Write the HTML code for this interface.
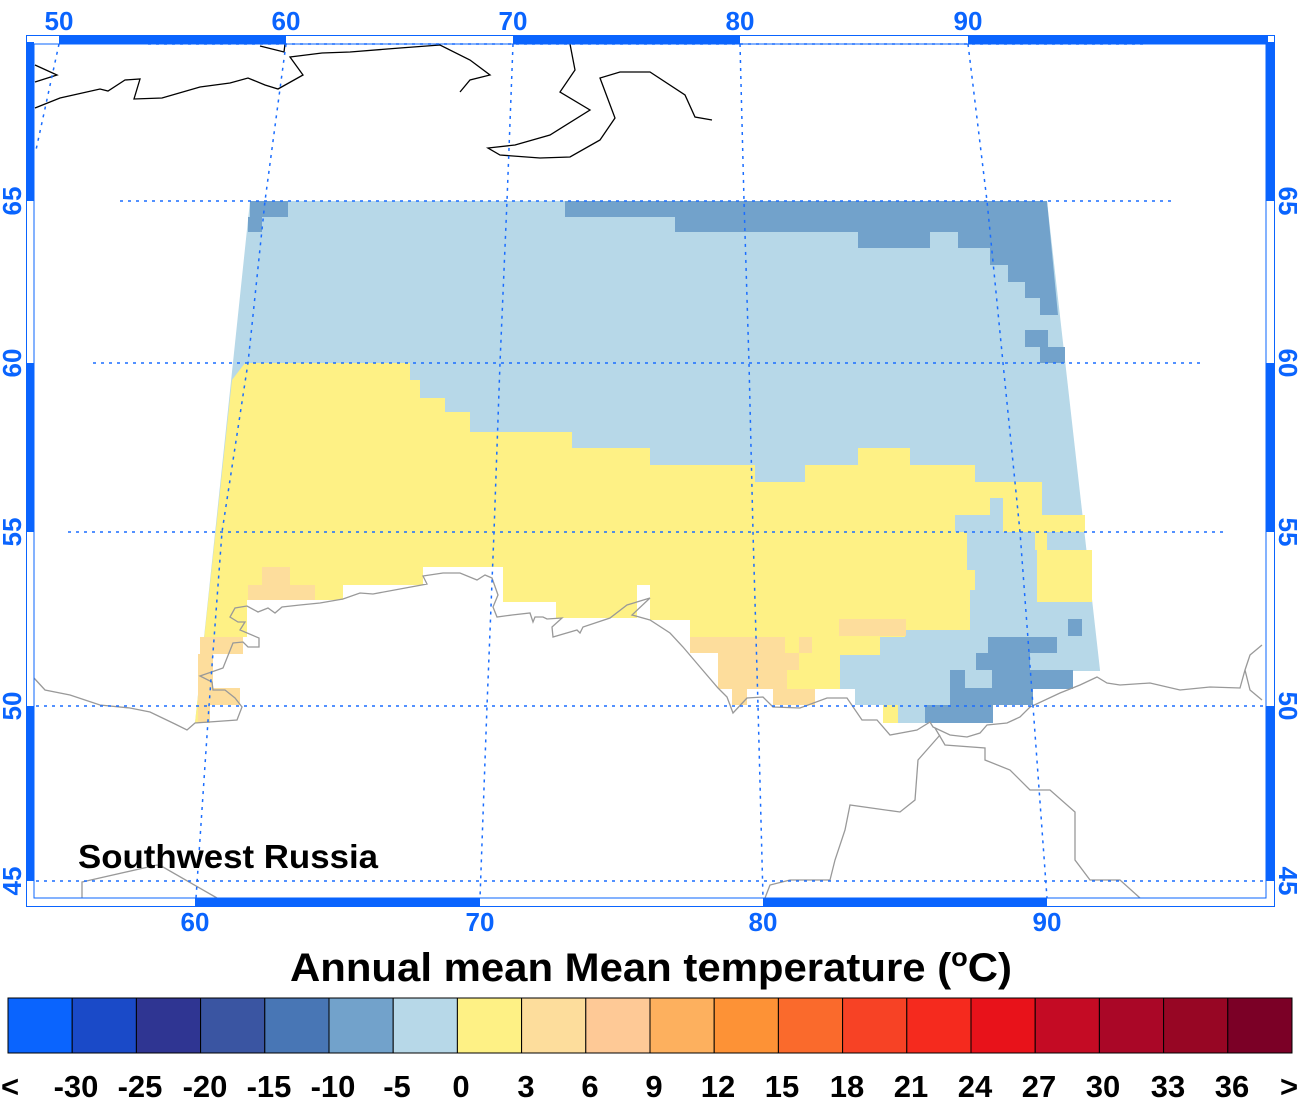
<!DOCTYPE html>
<html><head><meta charset="utf-8"><style>
html,body{margin:0;padding:0;background:#fff;}
svg{display:block;}
text{font-family:"Liberation Sans",Arial,sans-serif;font-weight:bold;}
</style></head><body>
<svg width="1300" height="1105" viewBox="0 0 1300 1105" xmlns="http://www.w3.org/2000/svg">
<polygon fill="#b7d8e8" points="250,201 1047,201 1100,670 1100,723 195,723"/>
<polygon fill="#fef185" points="232,380 245,363 410,363 410,380 420,380 420,398 445,398 445,412 470,412 470,432 572,432 572,448 650,448 650,465 755,465 755,482 805,482 805,465 858,465 858,448 910,448 910,465 975,465 975,482 1042,482 1042,515 1003,515 1003,498 990,498 990,515 955,515 955,532 967,532 967,570 975,570 975,590 970,590 970,630 905,630 905,637 880,637 880,655 840,655 840,723 195,723"/>
<rect fill="#fef185" x="1003" y="515" width="82" height="17"/>
<rect fill="#fef185" x="1035" y="532" width="12" height="18"/>
<rect fill="#fef185" x="1037" y="550" width="55" height="52"/>
<rect fill="#fef185" x="883" y="705" width="15" height="18"/>
<g fill="#fddd9c">
<rect x="262" y="567" width="28" height="18"/>
<rect x="248" y="585" width="67" height="15"/>
<rect x="200" y="637" width="43" height="17"/>
<rect x="198" y="654" width="15" height="69"/>
<rect x="198" y="688" width="42" height="17"/>
<rect x="690" y="637" width="95" height="16"/>
<rect x="799" y="637" width="13" height="16"/>
<rect x="839" y="619" width="67" height="17"/>
<rect x="718" y="653" width="81" height="17"/>
<rect x="718" y="670" width="69" height="19"/>
<rect x="732" y="689" width="15" height="16"/>
<rect x="773" y="689" width="42" height="16"/>
</g>
<g fill="#72a2cb">
<rect x="250" y="201" width="38" height="16"/>
<rect x="248" y="217" width="14" height="15"/>
<polygon points="565,201 1047,201 1058,315 1040,315 1040,298 1025,298 1025,282 1008,282 1008,265 990,265 990,248 958,248 958,232 930,232 930,248 918,248 918,232 858,232 858,248 858,232 675,232 675,217 565,217"/>
<rect x="858" y="232" width="60" height="16"/>
<rect x="1025" y="330" width="23" height="17"/>
<rect x="1040" y="347" width="25" height="16"/>
<rect x="1068" y="619" width="14" height="17"/>
<rect x="988" y="637" width="69" height="16"/>
<rect x="976" y="653" width="54" height="17"/>
<rect x="950" y="670" width="15" height="18"/>
<rect x="992" y="670" width="81" height="19"/>
<rect x="950" y="688" width="85" height="17"/>
<rect x="925" y="705" width="70" height="18"/>
</g>
<polygon fill="#fff" points="190,740 195,723 210,723 210,705 240,705 240,688 213,688 213,654 243,654 243,637 247,637 247,600 343,600 343,585 423,585 423,567 503,567 503,602 556,602 556,618 637,618 637,585 650,585 650,620 690,620 690,637 690,653 718,653 718,689 732,689 732,705 747,705 747,689 773,689 773,705 815,705 815,689 855,689 855,705 883,705 883,723 993,723 993,705 1033,705 1033,689 1073,689 1073,671 1110,671 1110,740"/>
<g fill="none" stroke="#000" stroke-width="1.3">
<polyline points="35,65 57,75 35,82"/>
<polyline points="35,108 60,98 100,89 108,91 125,80 140,79 134,99 162,98 200,87 230,83 248,78 265,85 278,89 303,75 290,57 322,53 350,52 400,48 440,45 470,60 490,75 470,80 460,92"/>
<polyline points="260,46 284,52 285,44"/>
<polyline points="570,44 575,70 560,92 590,110 550,135 515,145 488,148 500,155 540,158 570,157 600,140 615,118 600,78 620,72 650,72 685,95 695,117 712,120"/>
</g>
<g fill="none" stroke="#999" stroke-width="1.3">
<polyline points="34,678 45,690 70,695 100,705 130,708 150,712 175,724 187,730 195,723 237,720 242,707 235,698 225,690 213,690 212,682 200,676 223,668 233,643 243,642 248,647 259,647 259,638 240,630 245,622 238,622 230,617 235,608 247,606 258,612 268,608 275,613 282,607 300,605 320,603 343,599 360,593 373,594 427,584 423,576 443,573 460,573 477,580 485,575 492,578 498,595 493,607 497,617 512,615 530,613 533,622 535,617 543,617 547,619 562,618 552,627 553,637 577,630 580,633 583,627 610,618 627,605 650,598 632,615 650,620 670,633 683,647 700,667 718,688 727,697 733,713 747,698 763,697 773,707 800,708 827,698 847,698 862,720 877,720 890,735 917,730 930,722 933,727 950,735 967,737 980,733 987,725 1007,723 1020,717 1030,707 1060,693 1080,685 1097,677 1107,683 1120,685 1150,683 1180,690 1210,687 1240,688 1245,670 1250,655 1262,645"/>
<polyline points="1262,700 1250,690 1245,670"/>
<polyline points="935,728 945,745 985,748 985,760 1010,770 1030,790 1050,790 1075,812 1075,860 1090,880 1120,880 1140,898"/>
<polyline points="940,735 918,760 915,800 900,812 850,805 845,830 835,860 830,880 790,880 770,885 765,898"/>
<polyline points="82,898 82,882 157,865 163,867 217,898"/>
</g>
<g stroke="#1a6dff" stroke-width="1.5" stroke-dasharray="3,5" fill="none">
<line x1="120" y1="201" x2="1172" y2="201"/>
<line x1="93" y1="363" x2="1203" y2="363"/>
<line x1="68" y1="532" x2="1225" y2="532"/>
<line x1="36" y1="706" x2="1264" y2="706"/>
<line x1="36" y1="881" x2="1264" y2="881"/>
<line x1="148" y1="44" x2="1145" y2="44"/>
<line x1="59" y1="44" x2="36" y2="150"/>
<polyline points="286,44 265,201 248,363 222,532 209,706 196,898"/>
<polyline points="513,44 507,201 500,363 494,532 487,706 480,898"/>
<polyline points="740,44 744,201 749,363 753,532 758,706 763,898"/>
<polyline points="968,44 987,201 1003,363 1020,532 1033,706 1047,898"/>
</g>
<rect x="26.5" y="35.5" width="1248" height="871" fill="none" stroke="#0a64fe" stroke-width="1"/>
<rect x="34" y="44" width="1232" height="854" fill="none" stroke="#0a64fe" stroke-width="1"/>
<g fill="#0a64fe">
<rect x="59" y="36" width="227" height="8"/>
<rect x="513" y="36" width="227" height="8"/>
<rect x="968" y="36" width="300" height="8"/>
<rect x="26" y="42" width="8" height="159"/>
<rect x="26" y="363" width="8" height="169"/>
<rect x="26" y="706" width="8" height="175"/>
<rect x="1266" y="42" width="8" height="159"/>
<rect x="1266" y="363" width="8" height="169"/>
<rect x="1266" y="706" width="8" height="175"/>
<rect x="195" y="898" width="285" height="8"/>
<rect x="763" y="898" width="284" height="8"/>
</g>
<g fill="#0a64fe" font-size="26" text-anchor="middle">
<text x="59" y="30">50</text><text x="286" y="30">60</text><text x="513" y="30">70</text><text x="740" y="30">80</text><text x="968" y="30">90</text>
<text x="195" y="931">60</text><text x="480" y="931">70</text><text x="763" y="931">80</text><text x="1047" y="931">90</text>
<text transform="translate(21,201) rotate(-90)">65</text>
<text transform="translate(21,363) rotate(-90)">60</text>
<text transform="translate(21,532) rotate(-90)">55</text>
<text transform="translate(21,706) rotate(-90)">50</text>
<text transform="translate(21,881) rotate(-90)">45</text>
<text transform="translate(1279,201) rotate(90)">65</text>
<text transform="translate(1279,363) rotate(90)">60</text>
<text transform="translate(1279,532) rotate(90)">55</text>
<text transform="translate(1279,706) rotate(90)">50</text>
<text transform="translate(1279,881) rotate(90)">45</text>
</g>
<text x="78" y="868" font-size="33" fill="#000" textLength="300" lengthAdjust="spacingAndGlyphs">Southwest Russia</text>
<text x="290" y="981" font-size="40" fill="#000" textLength="722" lengthAdjust="spacingAndGlyphs">Annual mean Mean temperature (<tspan font-size="26" dy="-15">o</tspan><tspan dy="15">C)</tspan></text>
<g stroke="#000" stroke-width="1">
<rect x="8" y="998" width="64.2" height="55" fill="#0a64fe"/>
<rect x="72.2" y="998" width="64.2" height="55" fill="#1a4ac8"/>
<rect x="136.4" y="998" width="64.2" height="55" fill="#2f3592"/>
<rect x="200.6" y="998" width="64.2" height="55" fill="#3a55a2"/>
<rect x="264.8" y="998" width="64.2" height="55" fill="#4876b5"/>
<rect x="329" y="998" width="64.2" height="55" fill="#72a2cb"/>
<rect x="393.2" y="998" width="64.2" height="55" fill="#b7d8e8"/>
<rect x="457.4" y="998" width="64.2" height="55" fill="#fef185"/>
<rect x="521.6" y="998" width="64.2" height="55" fill="#fddd9c"/>
<rect x="585.8" y="998" width="64.2" height="55" fill="#fec996"/>
<rect x="650" y="998" width="64.2" height="55" fill="#fdb05e"/>
<rect x="714.2" y="998" width="64.2" height="55" fill="#fd9236"/>
<rect x="778.4" y="998" width="64.2" height="55" fill="#fa6a2c"/>
<rect x="842.6" y="998" width="64.2" height="55" fill="#f74225"/>
<rect x="906.8" y="998" width="64.2" height="55" fill="#f52a1e"/>
<rect x="971" y="998" width="64.2" height="55" fill="#e8121a"/>
<rect x="1035.2" y="998" width="64.2" height="55" fill="#c40b24"/>
<rect x="1099.4" y="998" width="64.2" height="55" fill="#aa0727"/>
<rect x="1163.6" y="998" width="64.2" height="55" fill="#970624"/>
<rect x="1227.8" y="998" width="64.2" height="55" fill="#7b0026"/>
</g>
<g font-size="31" fill="#000" text-anchor="middle">
<text x="10" y="1097">&lt;</text>
<text x="76" y="1097">-30</text><text x="140" y="1097">-25</text><text x="205" y="1097">-20</text><text x="269" y="1097">-15</text><text x="333" y="1097">-10</text><text x="397" y="1097">-5</text>
<text x="461" y="1097">0</text><text x="526" y="1097">3</text><text x="590" y="1097">6</text><text x="654" y="1097">9</text><text x="718" y="1097">12</text><text x="782" y="1097">15</text><text x="847" y="1097">18</text><text x="911" y="1097">21</text><text x="975" y="1097">24</text><text x="1039" y="1097">27</text><text x="1103" y="1097">30</text><text x="1168" y="1097">33</text><text x="1232" y="1097">36</text>
<text x="1289" y="1097">&gt;</text>
</g>
</svg>
</body></html>
